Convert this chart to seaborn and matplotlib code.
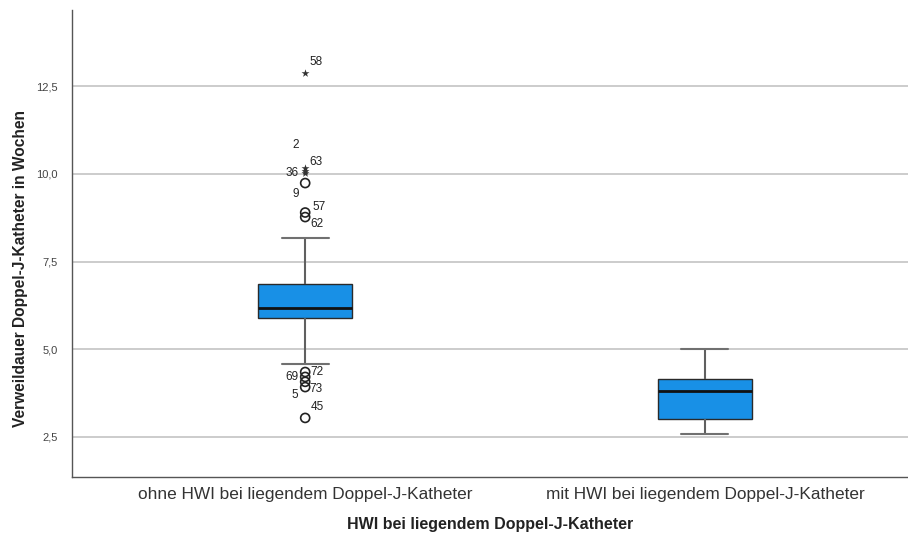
import pandas as pd
import matplotlib
matplotlib.use("Agg")
import matplotlib.pyplot as plt
import seaborn as sns

# groups
groups = ["ohne HWI bei liegendem Doppel-J-Katheter",
          "mit HWI bei liegendem Doppel-J-Katheter"]

# Verweildauer (Wochen), values
ohne_hwi = [3.04, 3.92, 4.07, 4.21, 4.35,
            4.58, 4.80, 5.00, 5.15, 5.30, 5.45, 5.60, 5.72, 5.83,
            5.89, 5.89,
            5.92, 5.95, 5.97, 6.00, 6.00, 6.02, 6.05, 6.07, 6.10, 6.10, 6.12, 6.14, 6.15,
            6.17, 6.17,
            6.20, 6.25, 6.30, 6.35, 6.40, 6.45, 6.50, 6.55, 6.60, 6.65, 6.70, 6.75, 6.80,
            6.86, 6.86,
            6.95, 7.10, 7.30, 7.50, 7.70, 7.90, 8.17,
            8.77, 8.90, 9.74, 10.02, 10.08, 10.16, 12.87]
mit_hwi = [2.57, 3.00, 3.81, 4.15, 5.00]

# outliers (circle) and extremes (star) with case numbers
out_vals = [8.77, 8.90, 9.74, 4.35, 4.21, 4.07, 3.92, 3.04]
out_ids = [62, 57, 9, 72, 69, 73, 5, 45]
ext_vals = [10.02, 10.08, 10.16, 12.87]
ext_ids = [36, 2, 63, 58]

ytick_vals = [2.5, 5.0, 7.5, 10.0, 12.5]
ytick_labels = ["2,5", "5,0", "7,5", "10,0", "12,5"]

df = pd.DataFrame({
    "grp": [groups[0]] * len(ohne_hwi) + [groups[1]] * len(mit_hwi),
    "wochen": ohne_hwi + mit_hwi,
})
df_out = pd.DataFrame({"grp": groups[0], "wochen": out_vals})
df_ext = pd.DataFrame({"grp": groups[0], "wochen": ext_vals})

sns.set_style("white")
plt.rcParams["font.family"] = ["Liberation Sans", "DejaVu Sans"]

fig = plt.figure(figsize=(9.08, 5.4), dpi=100)
ax = fig.add_axes([0.079, 0.117, 0.921, 0.864])

ax.yaxis.grid(True, color="#c8c8c8", lw=1.3, zorder=0)
ax.set_axisbelow(True)

sns.boxplot(data=df, x="grp", y="wochen", order=groups, ax=ax,
            width=0.235, showfliers=False, color="#1890e6", saturation=1,
            boxprops=dict(edgecolor="#2a2a2a", lw=1.0),
            medianprops=dict(color="#111111", lw=2.0),
            whiskerprops=dict(color="#606060", lw=1.5),
            capprops=dict(color="#707070", lw=1.5))

sns.stripplot(data=df_out, x="grp", y="wochen", order=groups, ax=ax,
              jitter=False, marker="o", size=6.5, facecolor="none",
              edgecolor="#222222", linewidth=1.2, zorder=4)
sns.stripplot(data=df_ext, x="grp", y="wochen", order=groups, ax=ax,
              jitter=False, marker="*", size=6, color="#333333",
              linewidth=0, zorder=4)

# case labels
offsets = {62: (4, -5), 57: (5, 4), 9: (-9, -8), 72: (4, 0), 69: (-14, 0),
           73: (3, -5), 5: (-10, -6), 45: (4, 8), 36: (-14, 0), 2: (-9, 19),
           63: (3, 4.5), 58: (3, 8)}
for vals, ids in [(out_vals, out_ids), (ext_vals, ext_ids)]:
    for v, i in zip(vals, ids):
        ax.annotate(str(i), (0, v), xytext=offsets[i], textcoords="offset points",
                    fontsize=8.5, color="#222222", va="center", ha="left")

ax.set_xlim(-0.584, 1.508)
ax.set_ylim(1.36, 14.67)
ax.set_yticks(ytick_vals)
ax.set_yticklabels(ytick_labels)
ax.tick_params(axis="y", length=0, labelsize=8, labelcolor="#444444", pad=10)
ax.tick_params(axis="x", length=0, labelsize=12.4, labelcolor="#333333", pad=7)

ax.set_xlabel("HWI bei liegendem Doppel-J-Katheter", fontsize=11.5,
              fontweight="bold", color="#222222", labelpad=11)
ax.set_ylabel("Verweildauer Doppel-J-Katheter in Wochen", fontsize=11.2,
              fontweight="bold", color="#222222")
ax.yaxis.set_label_coords(-0.052, 0.447)

sns.despine(ax=ax)
for s in ["left", "bottom"]:
    ax.spines[s].set_color("#555555")
    ax.spines[s].set_linewidth(1.0)

fig.savefig("out.png", dpi=100)
